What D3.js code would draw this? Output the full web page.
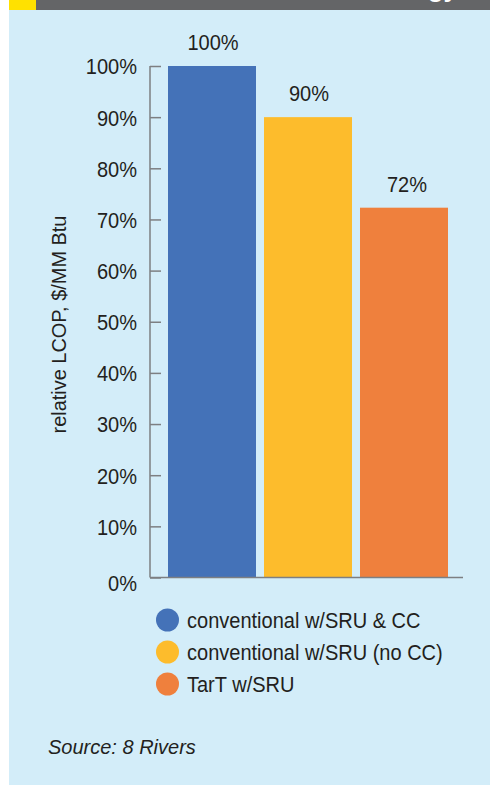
<!DOCTYPE html>
<html>
<head>
<meta charset="utf-8">
<script src="https://cdn.jsdelivr.net/npm/d3@7"></script>
<style>
  html, body { margin: 0; padding: 0; background: #ffffff; }
  svg { display: block; font-family: "Liberation Sans", Arial, sans-serif; }
</style>
</head>
<body>
<svg id="chart" width="490" height="785"></svg>
<script>
// ---- data ----
const categories = ["conventional w/SRU & CC", "conventional w/SRU (no CC)", "TarT w/SRU"];
const values = [100, 90, 72.3];
const colors = ["#4472b8", "#fdbc2c", "#ef803d"];
const yTicks = [0, 10, 20, 30, 40, 50, 60, 70, 80, 90, 100];
const yLabel = "relative LCOP, $/MM Btu";
const source = "Source: 8 Rivers";

const SX = 0.91; // horizontal condensing of the text face
const svg = d3.select("#chart");

// panel background
svg.append("rect").attr("x", 9).attr("y", 0).attr("width", 481).attr("height", 785).attr("fill", "#d3edf9");
// top banner
svg.append("rect").attr("x", 9).attr("y", 0).attr("width", 481).attr("height", 10).attr("fill", "#646567");
svg.append("rect").attr("x", 9).attr("y", 0).attr("width", 27).attr("height", 10).attr("fill", "#ffe100");
svg.append("clipPath").attr("id", "bannerClip").append("rect").attr("x", 9).attr("y", 0).attr("width", 481).attr("height", 10);
svg.append("text").attr("clip-path", "url(#bannerClip)")
  .attr("x", 458).attr("y", -3).attr("text-anchor", "end")
  .attr("font-size", 26).attr("font-weight", "bold").attr("fill", "#ffffff").text("Technology");

// scales
const y = d3.scaleLinear().domain([0, 100]).range([577.5, 66]);
const x = d3.scaleBand().domain(categories).range([168, 448]).paddingInner(8 / 96).paddingOuter(0);

// bars
svg.append("g").selectAll("rect").data(categories).join("rect")
  .attr("x", d => x(d))
  .attr("width", x.bandwidth())
  .attr("y", (d, i) => y(values[i]))
  .attr("height", (d, i) => y(0) - y(values[i]))
  .attr("fill", (d, i) => colors[i]);

// value labels
svg.append("g").selectAll("text").data(categories).join("text")
  .attr("transform", (d, i) => `translate(${x(d) + x.bandwidth() / 2 + (i === 2 ? 3 : 1)},${y(values[i]) - 16}) scale(${SX},1)`)
  .attr("text-anchor", "middle")
  .attr("font-size", 22).attr("fill", "#231f20")
  .text((d, i) => Math.round(values[i]) + "%");

// y axis
const yAxis = d3.axisLeft(y).tickValues(yTicks).tickFormat(d => d + "%").tickSize(-11).tickPadding(13);
const gy = svg.append("g").attr("transform", "translate(150,0)").call(yAxis);
gy.select(".domain").attr("stroke", "#7d7f82").attr("stroke-width", 1.5).attr("d", `M0,${y(100)}V${y(0)}`);
gy.selectAll(".tick line").attr("stroke", "#7d7f82").attr("stroke-width", 1.5);
gy.selectAll(".tick text").attr("font-size", 22).attr("fill", "#231f20")
  .attr("font-family", "'Liberation Sans', Arial, sans-serif")
  .attr("x", 0).attr("dy", "0.36em")
  .attr("transform", `translate(-13,0) scale(${SX},1)`);
gy.selectAll(".tick").filter(d => d === 0).select("text").attr("dy", "0.6em");

// baseline
svg.append("line").attr("x1", 150).attr("x2", 463).attr("y1", y(0)).attr("y2", y(0))
  .attr("stroke", "#7d7f82").attr("stroke-width", 1.5);

// y label
svg.append("text")
  .attr("transform", `translate(66,${324.5}) rotate(-90) scale(0.95,1)`)
  .attr("text-anchor", "middle").attr("font-size", 21).attr("fill", "#231f20")
  .text(yLabel);

// legend
const lg = svg.append("g").selectAll("g").data(categories).join("g")
  .attr("transform", (d, i) => `translate(167.5,${620 + i * 32})`);
lg.append("circle").attr("r", 11.5).attr("fill", (d, i) => colors[i]);
lg.append("text").attr("transform", `translate(19.5,8) scale(${SX},1)`)
  .attr("font-size", 22).attr("fill", "#231f20").text(d => d);

// source
svg.append("text").attr("x", 48).attr("y", 754).attr("font-size", 20).attr("font-style", "italic")
  .attr("fill", "#231f20").text(source);
</script>
</body>
</html>
